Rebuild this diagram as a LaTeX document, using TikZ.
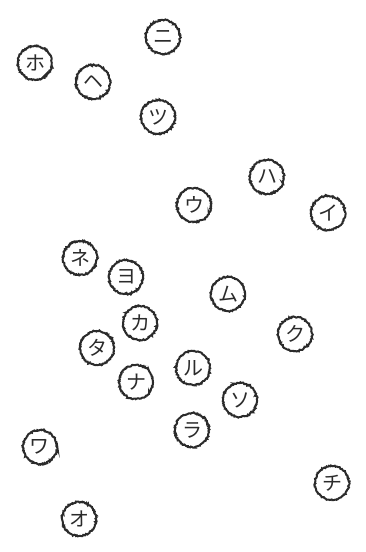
\documentclass[tikz,border=0pt]{standalone}
\usepackage{fontspec}
\usepackage{tikz}
\usetikzlibrary{decorations.pathmorphing}
\newfontfamily\jpfont{Noto Sans CJK JP}
\definecolor{pencil}{HTML}{2B2B2B}

\begin{document}
\begin{tikzpicture}[
  x=1pt,y=-1pt,
  kana/.style={circle,draw=pencil,line width=2pt,minimum size=34pt,inner sep=0pt,
               decorate,decoration={random steps,segment length=1pt,amplitude=0.7pt},
               font=\jpfont\fontsize{20}{20}\selectfont,text=pencil}
]
\useasboundingbox (0,0) rectangle (366,552);

\node[kana] (ni) at (163,37) {ニ};
\node[kana] (ho) at (35,63) {ホ};
\node[kana] (he) at (93,82) {ヘ};
\node[kana] (tsu) at (158,117) {ツ};
\node[kana] (ha) at (267,177) {ハ};
\node[kana] (u) at (194,205) {ウ};
\node[kana] (i) at (328,213) {イ};
\node[kana] (ne) at (80,258) {ネ};
\node[kana] (yo) at (126,277) {ヨ};
\node[kana] (mu) at (228,294) {ム};
\node[kana] (ka) at (140,323) {カ};
\node[kana] (ku) at (295,334) {ク};
\node[kana] (ta) at (97,348) {タ};
\node[kana] (ru) at (193,368) {ル};
\node[kana] (na) at (136,382) {ナ};
\node[kana] (so) at (240,400) {ソ};
\node[kana] (ra) at (192,430) {ラ};
\node[kana] (wa) at (40,447) {ワ};
\node[kana] (chi) at (332,483) {チ};
\node[kana] (o) at (79,519) {オ};
\end{tikzpicture}
\end{document}
